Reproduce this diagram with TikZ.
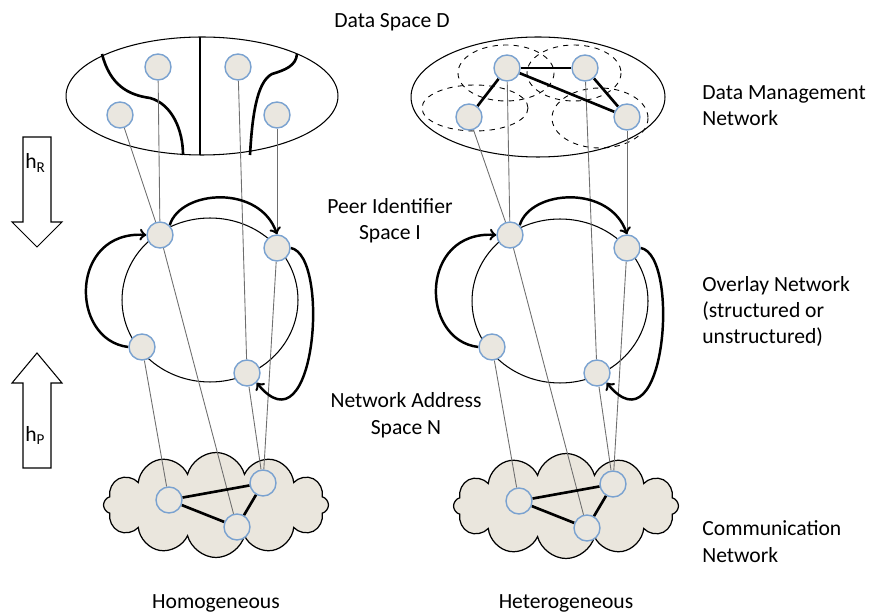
\documentclass[tikz,border=0pt]{standalone}
\usepackage{fontspec}
\setmainfont{Carlito}
\usetikzlibrary{shapes,arrows,positioning,calc}
\definecolor{peerfill}{RGB}{234,231,224}
\definecolor{peerblue}{RGB}{122,162,208}
\definecolor{cloudfill}{RGB}{234,230,221}
\definecolor{mapgray}{RGB}{110,110,110}
\pgfdeclarelayer{back}
\pgfdeclarelayer{mid}
\pgfsetlayers{back,mid,main}

\begin{document}
\begin{tikzpicture}[x=0.02cm, y=-0.02cm,
  peer/.style={circle, draw=peerblue, fill=peerfill, line width=0.8pt, minimum size=0.52cm, inner sep=0pt},
  space/.style={ellipse, draw, line width=0.6pt, inner sep=0pt},
  net/.style={cloud, cloud puffs=12, cloud ignores aspect, draw, fill=cloudfill, line width=0.7pt, inner sep=0pt},
  mapline/.style={draw=mapgray, line width=0.5pt},
  link/.style={line width=1.5pt},
  hop/.style={line width=1.4pt, ->, >=to},
  zone/.style={dashed, line width=0.5pt},
  txt/.style={font=\fontsize{12.3}{15}\selectfont, inner sep=0pt, align=left}]
  \useasboundingbox (0,0) rectangle (878,614);

  % spaces and networks
  \begin{pgfonlayer}{back}
    \node[space, minimum width=5.44cm, minimum height=2.36cm] (dataL) at (202,96) {};
    \node[space, minimum width=5.08cm, minimum height=2.4cm] (dataR) at (538,97) {};
    \node[space, minimum width=3.52cm, minimum height=3.28cm] (ringL) at (210,300) {};
    \node[space, minimum width=3.52cm, minimum height=3.28cm] (ringR) at (560,301) {};
    \node[net, minimum width=4.5cm, minimum height=2.1cm] (cloudL) at (216,505) {};
    \node[net, minimum width=4.5cm, minimum height=2.1cm] (cloudR) at (566,506) {};
    % partitions of the data space
    \draw[link] (200,37) -- (200,155);
    \draw[link] (102,54) .. controls (110,85) and (128,95) .. (150,98)
      .. controls (172,104) and (183,130) .. (183,155);
    \draw[link] (297,54) .. controls (296,66) and (285,70) .. (272,74)
      .. controls (256,82) and (252,120) .. (250,155);
    % data management groups
    \draw[zone] (506,73) ellipse (48 and 28);
    \draw[zone] (574,73) ellipse (47 and 28);
    \draw[zone] (475,108) ellipse (53 and 23);
    \draw[zone] (600,118) ellipse (48 and 30);
  \end{pgfonlayer}

  % peers, homogeneous side
  \node[peer] (d1) at (120,115) {};
  \node[peer] (d2) at (158,67) {};
  \node[peer] (d3) at (238,67) {};
  \node[peer] (d4) at (277,115) {};
  \node[peer] (lA) at (160,235) {};
  \node[peer] (lB) at (277,248) {};
  \node[peer] (lC) at (142,347) {};
  \node[peer] (lD) at (247,373) {};
  \node[peer] (lN1) at (169,500) {};
  \node[peer] (lN2) at (263,483) {};
  \node[peer] (lN3) at (237,527) {};

  % peers, heterogeneous side
  \node[peer] (e1) at (507,68) {};
  \node[peer] (e2) at (585,68) {};
  \node[peer] (e3) at (469,117) {};
  \node[peer] (e4) at (627,117) {};
  \node[peer] (rA) at (510,235) {};
  \node[peer] (rB) at (627,248) {};
  \node[peer] (rC) at (492,347) {};
  \node[peer] (rD) at (597,373) {};
  \node[peer] (rN1) at (519,501) {};
  \node[peer] (rN2) at (613,484) {};
  \node[peer] (rN3) at (587,528) {};

  \begin{pgfonlayer}{mid}
    % h_R and h_P mappings
    \draw[mapline] (d1) -- (lA);
    \draw[mapline] (d2) -- (lA);
    \draw[mapline] (d3) -- (lD);
    \draw[mapline] (d4) -- (lB);
    \draw[mapline] (lA) -- (lN3);
    \draw[mapline] (lC) -- (lN1);
    \draw[mapline] (lD) -- (lN2);
    \draw[mapline] (lB) -- (lN2);
    \draw[mapline] (e3) -- (rA);
    \draw[mapline] (e1) -- (rA);
    \draw[mapline] (e2) -- (rD);
    \draw[mapline] (e4) -- (rB);
    \draw[mapline] (rA) -- (rN3);
    \draw[mapline] (rC) -- (rN1);
    \draw[mapline] (rD) -- (rN2);
    \draw[mapline] (rB) -- (rN2);

    % links
    \draw[link] (e1) -- (e2);
    \draw[link] (e1) -- (e3);
    \draw[link] (e1) -- (e4);
    \draw[link] (e2) -- (e4);
    \draw[link] (lN1) -- (lN2);
    \draw[link] (lN1) -- (lN3);
    \draw[link] (lN3) -- (lN2);
    \draw[link] (rN1) -- (rN2);
    \draw[link] (rN1) -- (rN3);
    \draw[link] (rN3) -- (rN2);

    % overlay hops
    \draw[hop] (lA.north east) .. controls +(11,-36) and +(-17,-50) .. (lB.north);
    \draw[hop] (lC.west) .. controls +(-59,-7) and +(-77,-5) .. (lA.west);
    \draw[hop] (lB.east) .. controls +(40,7) and +(59,73) .. (lD.south east);
    \draw[hop] (rA.north east) .. controls +(11,-36) and +(-17,-50) .. (rB.north);
    \draw[hop] (rC.west) .. controls +(-59,-7) and +(-77,-5) .. (rA.west);
    \draw[hop] (rB.east) .. controls +(40,7) and +(59,73) .. (rD.south east);
  \end{pgfonlayer}

  % h arrows
  \draw[line width=0.6pt] (23,137) -- (51,137) -- (51,222) -- (62,222) -- (37,247)
    -- (12,222) -- (23,222) -- cycle;
  \draw[line width=0.6pt] (23,468) -- (51,468) -- (51,383) -- (62,383) -- (37,353)
    -- (12,383) -- (23,383) -- cycle;
  \node[txt, anchor=base west] (hR) at (25,169) {h\textsubscript{R}};
  \node[txt, anchor=base west] (hP) at (25,441) {h\textsubscript{P}};

  % labels (base = last line)
  \node[txt, anchor=base] (dsD) at (392,28) {Data Space D};
  \node[txt, anchor=base west] (dmn) at (702,126) {Data Management\\Network};
  \node[txt, anchor=base, align=center] (pid) at (390,240) {Peer Identifier\\Space I};
  \node[txt, anchor=base west] (ovl) at (702,344) {Overlay Network\\(structured or\\unstructured)};
  \node[txt, anchor=base, align=center] (nas) at (406,434) {Network Address\\Space N};
  \node[txt, anchor=base west] (com) at (702,562) {Communication\\Network};
  \node[txt, anchor=base] (hom) at (216,608) {Homogeneous};
  \node[txt, anchor=base] (het) at (566,608) {Heterogeneous};
\end{tikzpicture}
\end{document}
